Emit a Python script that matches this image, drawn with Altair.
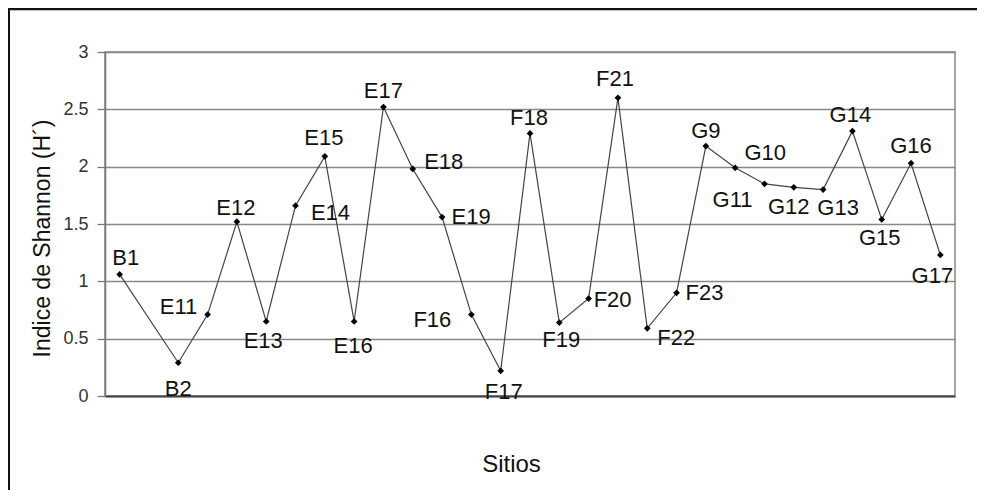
import altair as alt
import pandas as pd

# ---- data ----
SITES = ["B1", "B2", "E11", "E12", "E13", "E14", "E15", "E16", "E17", "E18",
         "E19", "F16", "F17", "F18", "F19", "F20", "F21", "F22", "F23", "G9",
         "G10", "G11", "G12", "G13", "G14", "G15", "G16", "G17"]
SHANNON = [1.06, 0.29, 0.71, 1.52, 0.65, 1.66, 2.09, 0.65, 2.52, 1.98,
           1.56, 0.71, 0.22, 2.29, 0.64, 0.85, 2.60, 0.59, 0.90, 2.18,
           1.99, 1.85, 1.82, 1.80, 2.31, 1.54, 2.03, 1.23]
# category axis has an empty slot between B1 and B2
X_DOMAIN = ["B1", " "] + SITES[1:]
Y_TICKS = [0, 0.5, 1, 1.5, 2, 2.5, 3]

# label placement (pixel offsets from each marker)
LABEL_OFFSETS = {
    "B1": (6, -16), "B2": (0, 26), "E11": (-29, -8), "E12": (-1, -14),
    "E13": (-3, 20), "E14": (35, 7), "E15": (-1, -18), "E16": (-1, 25),
    "E17": (0, -16), "E18": (31, -7), "E19": (29, 0), "F16": (-39, 5),
    "F17": (3, 21), "F18": (-1, -15), "F19": (2, 17), "F20": (24, 1),
    "F21": (-3, -19), "F22": (29, 10), "F23": (28, 0), "G9": (0, -15),
    "G10": (30, -15), "G11": (-32, 16), "G12": (-5, 20), "G13": (15, 18),
    "G14": (-2, -16), "G15": (-2, 19), "G16": (0, -17), "G17": (-8, 21),
}

FONT = "Liberation Sans"
W, H = 850, 344
PAD = {"left": 97, "top": 44, "right": 22, "bottom": 94}

df = pd.DataFrame({"site": SITES, "h": SHANNON})

x = alt.X(
    "site:N",
    scale=alt.Scale(type="point", domain=X_DOMAIN, padding=0.5),
    axis=alt.Axis(
        labels=False, ticks=False, grid=False, domain=True,
        domainColor="#444", domainWidth=2,
        title="Sitios", titleFont=FONT, titleFontSize=24,
        titleFontWeight="normal", titleColor="#111",
        titleX=406, titleY=75, titleAlign="center",
        titleBaseline="alphabetic", titleAngle=0,
    ),
)
y = alt.Y(
    "h:Q",
    scale=alt.Scale(domain=[0, 3], nice=False, zero=True),
    axis=alt.Axis(
        values=Y_TICKS, format="~g", grid=True, gridColor="#888",
        gridWidth=1.3, tickSize=8, tickColor="#777", tickWidth=1.3,
        domainColor="#777", domainWidth=1.5,
        labelFont=FONT, labelFontSize=18, labelColor="#333", labelPadding=9,
        title="Indice de Shannon (H´)", titleFont=FONT, titleFontSize=23,
        titleFontWeight="normal", titleColor="#111",
        titleX=-63, titleY=186, titleAngle=-90, titleAlign="center",
        titleBaseline="middle",
    ),
)

base = alt.Chart(df).transform_window(idx="row_number()")

line = base.mark_line(color="#444", strokeWidth=1.2).encode(
    x=x, y=y, order="idx:Q"
)
points = base.mark_point(
    shape="diamond", filled=True, size=45, color="#000", opacity=1
).encode(x=x, y=y)

labels = []
for s in SITES:
    dx, dy = LABEL_OFFSETS[s]
    labels.append(
        base.transform_filter(alt.datum.site == s)
        .mark_text(dx=dx, dy=dy, font=FONT, fontSize=22, color="#111",
                   align="center", baseline="middle")
        .encode(x=x, y=y, text="site:N")
    )

frame_df = pd.DataFrame({"a": [0]})
top_border = alt.Chart(frame_df).mark_rule(color="#111", strokeWidth=2.5).encode(
    x=alt.value(-PAD["left"]), x2=alt.value(W + PAD["right"]), y=alt.value(-43)
)
left_border = alt.Chart(frame_df).mark_rule(color="#111", strokeWidth=2).encode(
    x=alt.value(-96), y=alt.value(-43), y2=alt.value(H + PAD["bottom"])
)

chart = (
    alt.layer(line, points, *labels, top_border, left_border)
    .properties(
        width=W, height=H, padding=PAD,
        autosize=alt.AutoSizeParams(type="none"),
        background="white",
    )
    .configure_view(stroke="#888", strokeWidth=1.5)
)

chart.save("out.html", embed_options={"renderer": "svg", "actions": False})
